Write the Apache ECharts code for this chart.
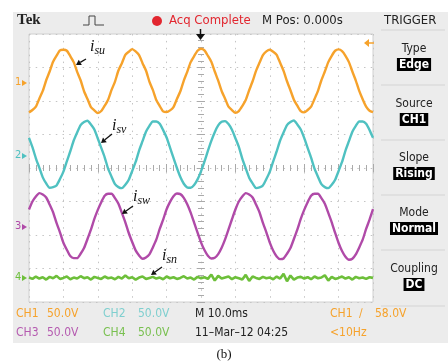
<!DOCTYPE html>
<html><head><meta charset="utf-8">
<script src="https://cdn.jsdelivr.net/npm/echarts@6/dist/echarts.min.js"></script>
<style>html,body{margin:0;padding:0;background:#fff}#c{width:448px;height:363px}</style>
</head><body><div id="c"></div>
<script>
// time axis (ms, relative to trigger) – 10 ms/div, 10 divisions
const timeMs = [-50,-49,-48,-47,-46,-45,-44,-43,-42,-41,-40,-39,-38,-37,-36,-35,-34,-33,-32,-31,
-30,-29,-28,-27,-26,-25,-24,-23,-22,-21,-20,-19,-18,-17,-16,-15,-14,-13,-12,-11,
-10,-9,-8,-7,-6,-5,-4,-3,-2,-1,0,1,2,3,4,5,6,7,8,9,
10,11,12,13,14,15,16,17,18,19,20,21,22,23,24,25,26,27,28,29,
30,31,32,33,34,35,36,37,38,39,40,41,42,43,44,45,46,47,48,49,50];
// screen values in divisions (including channel offsets)
const isu = [1.66,1.73,1.83,2.07,2.30,2.62,2.88,3.17,3.35,3.51,3.53,3.50,3.34,3.16,2.87,2.62,2.29,2.06,1.82,1.72,
1.64,1.70,1.86,2.04,2.33,2.58,2.91,3.13,3.38,3.47,3.55,3.48,3.37,3.13,2.91,2.58,2.33,2.03,1.85,1.69,
1.67,1.72,1.82,2.06,2.29,2.61,2.87,3.16,3.34,3.50,3.56,3.51,3.35,3.17,2.88,2.61,2.30,2.07,1.83,1.73,
1.65,1.70,1.85,2.03,2.32,2.59,2.90,3.14,3.37,3.48,3.53,3.47,3.38,3.14,2.90,2.59,2.32,2.04,1.86,1.70,
1.66,1.73,1.83,2.06,2.30,2.62,2.88,3.16,3.35,3.50,3.54,3.49,3.35,3.16,2.88,2.61,2.30,2.05,1.83,1.71,1.67];
const isv = [0.90,0.62,0.29,0.01,-0.28,-0.46,-0.59,-0.57,-0.52,-0.33,-0.11,0.20,0.50,0.82,1.06,1.28,1.37,1.41,1.30,1.15,
0.88,0.60,0.32,-0.02,-0.26,-0.48,-0.57,-0.60,-0.50,-0.35,-0.09,0.18,0.52,0.80,1.08,1.26,1.39,1.39,1.32,1.13,
0.91,0.61,0.30,0.00,-0.27,-0.47,-0.58,-0.59,-0.51,-0.34,-0.10,0.19,0.51,0.81,1.07,1.27,1.38,1.40,1.31,1.14,
0.89,0.63,0.28,-0.01,-0.29,-0.46,-0.60,-0.58,-0.52,-0.33,-0.11,0.20,0.50,0.82,1.06,1.28,1.37,1.42,1.30,1.15,
0.90,0.60,0.31,-0.02,-0.26,-0.48,-0.57,-0.60,-0.50,-0.35,-0.09,0.18,0.52,0.80,1.08,1.26,1.39,1.39,1.32,1.13,0.90];
const isw = [-1.24,-1.00,-0.85,-0.75,-0.79,-0.88,-1.09,-1.32,-1.64,-1.92,-2.23,-2.44,-2.63,-2.69,-2.69,-2.56,-2.39,-2.12,-1.84,-1.52,
-1.25,-1.02,-0.83,-0.77,-0.77,-0.90,-1.07,-1.34,-1.62,-1.94,-2.21,-2.46,-2.61,-2.71,-2.67,-2.58,-2.37,-2.14,-1.82,-1.54,
-1.23,-1.01,-0.84,-0.76,-0.78,-0.89,-1.08,-1.33,-1.63,-1.93,-2.22,-2.45,-2.62,-2.70,-2.68,-2.57,-2.38,-2.13,-1.83,-1.53,
-1.24,-1.00,-0.85,-0.75,-0.79,-0.88,-1.09,-1.32,-1.64,-1.92,-2.23,-2.47,-2.64,-2.72,-2.70,-2.56,-2.39,-2.12,-1.84,-1.52,
-1.25,-1.02,-0.83,-0.77,-0.77,-0.90,-1.07,-1.34,-1.62,-1.94,-2.24,-2.48,-2.65,-2.74,-2.71,-2.58,-2.37,-2.14,-1.82,-1.54,-1.23];
const isn = [-3.27,-3.31,-3.24,-3.30,-3.26,-3.33,-3.25,-3.29,-3.22,-3.31,
-3.28,-3.24,-3.32,-3.27,-3.30,-3.23,-3.29,-3.26,-3.33,-3.25,
-3.28,-3.31,-3.24,-3.29,-3.27,-3.32,-3.25,-3.30,-3.21,-3.29,
-3.26,-3.33,-3.27,-3.24,-3.31,-3.28,-3.25,-3.30,-3.27,-3.32,
-3.24,-3.29,-3.26,-3.31,-3.28,-3.23,-3.30,-3.27,-3.33,-3.25,
-3.29,-3.26,-3.31,-3.18,-3.36,-3.22,-3.30,-3.27,-3.24,-3.32,
-3.26,-3.29,-3.33,-3.19,-3.37,-3.24,-3.28,-3.31,-3.25,-3.29,
-3.27,-3.32,-3.24,-3.30,-3.16,-3.38,-3.21,-3.33,-3.27,-3.25,
-3.30,-3.26,-3.32,-3.24,-3.29,-3.27,-3.20,-3.36,-3.25,-3.31,
-3.28,-3.24,-3.30,-3.26,-3.33,-3.25,-3.29,-3.27,-3.31,-3.26,-3.28];
const seriesNames = ['isu','isv','isw','isn'];
const colors = ['#f6a22b','#4fc1c1','#b04aa8','#6dbf3a'];

const pair = a => a.map((v,i)=>[timeMs[i], v]);
const NF = "'Liberation Sans Narrow','DejaVu Sans Condensed','Liberation Sans',sans-serif";
const SF = "'Liberation Serif','DejaVu Serif',serif";

const gridCol = '#c4c4c4';
function xAx(pos, offset, inside, split){
  return {type:'value',min:-50,max:50,interval:10,position:pos,offset:offset,
    axisLine:{show:false},axisLabel:{show:false},
    axisTick:{show:true,inside:inside,length:4,lineStyle:{color:'#aaa'}},
    minorTick:{show:true,splitNumber:5,length:3,lineStyle:{color:'#aaa'}},
    splitLine:{show:split,lineStyle:{color:gridCol,type:[1.5,5.4],width:1}}};
}
function yAx(pos, offset, inside, split){
  return {type:'value',min:-4,max:4,interval:1,position:pos,offset:offset,
    axisLine:{show:false},axisLabel:{show:false},
    axisTick:{show:true,inside:inside,length:4,lineStyle:{color:'#aaa'}},
    minorTick:{show:true,splitNumber:5,length:3,lineStyle:{color:'#aaa'}},
    splitLine:{show:split,lineStyle:{color:gridCol,type:[1.5,5.2],width:1}}};
}

function arrow(x1,y1,x2,y2,color){
  const dx=x2-x1, dy=y2-y1, L=Math.hypot(dx,dy), ux=dx/L, uy=dy/L;
  const hl=5, hw=3;
  const bx=x2-ux*hl, by=y2-uy*hl;
  return [
    {type:'line',shape:{x1:x1,y1:y1,x2:bx,y2:by},style:{stroke:color,lineWidth:1.3},z:50},
    {type:'polygon',shape:{points:[[x2,y2],[bx-uy*hw,by+ux*hw],[bx+uy*hw,by-ux*hw]]},style:{fill:color},z:50}
  ];
}
function sublabel(x,y,sub){
  return {type:'text',left:x,top:y,z:50,style:{text:'{i|i}{s|'+sub+'}',
    rich:{i:{fontFamily:SF,fontStyle:'italic',fontSize:16,fill:'#111',verticalAlign:'top'},
          s:{fontFamily:SF,fontStyle:'italic',fontSize:12,fill:'#111',padding:[6,0,0,0]}}}};
}
function t(x,y,text,color,size,extra){
  return Object.assign({type:'text',left:x,top:y,z:50,style:Object.assign({text:text,fill:color,fontFamily:NF,fontSize:size||12},extra||{})});
}
function ctext(cx,y,text,boxed){
  const st={text:text,fill:boxed?'#fff':'#222',fontFamily:NF,fontSize:12,align:'center'};
  if(boxed){st.backgroundColor='#000';st.padding=[1,2,0,2];st.fontWeight='bold';}
  return {type:'text',x:cx,y:y,z:50,style:st};
}

const g = [];
g.push({type:'rect',shape:{x:13,y:12,width:435,height:331},style:{fill:'#ececec'},z:-100});
// header
g.push(t(17,13,'Tek','#222',15,{fontFamily:SF,fontWeight:'bold'}));
g.push({type:'polyline',shape:{points:[[83,25],[89,25],[89,16],[95,16],[95,25],[104,25]]},style:{stroke:'#444',lineWidth:1,fill:null},z:50});
g.push({type:'circle',shape:{cx:157,cy:21,r:5},style:{fill:'#e2262f'},z:50});
g.push(t(169,14,'Acq Complete','#e2262f',13));
g.push(t(262,14,'M Pos: 0.000s','#222',13));
g.push(t(384,14,'TRIGGER','#222',13));
// trigger panel
[30,85,140,195,250,306].forEach(y=>g.push({type:'line',shape:{x1:381,y1:y,x2:445,y2:y},style:{stroke:'#d4d4d4',lineWidth:1},z:40}));
const trig=[['Type','Edge',43],['Source','CH1',98],['Slope','Rising',152],['Mode','Normal',207],['Coupling','DC',263]];
trig.forEach(r=>{g.push(ctext(414,r[2],r[0],false));g.push(ctext(414,r[2]+15,r[1],true));});
// channel markers
[['1',83,colors[0]],['2',156,colors[1]],['3',227,colors[2]],['4',278,colors[3]]].forEach(m=>{
  g.push(t(15,m[1]-6,m[0],m[2],11));
  g.push({type:'polygon',shape:{points:[[22,m[1]-3],[22,m[1]+3],[27,m[1]]]},style:{fill:m[2]},z:50});
});
// trigger time arrow (top) and trigger level arrow (right)
g.push({type:'line',shape:{x1:200.5,y1:29,x2:200.5,y2:35},style:{stroke:'#111',lineWidth:1.5},z:60});
g.push({type:'polygon',shape:{points:[[196,34],[205,34],[200.5,40]]},style:{fill:'#111'},z:60});
g.push({type:'line',shape:{x1:367,y1:43,x2:374,y2:43},style:{stroke:colors[0],lineWidth:1.5},z:60});
g.push({type:'polygon',shape:{points:[[364,43],[369,39],[369,47]]},style:{fill:colors[0]},z:60});
// annotations
g.push(sublabel(90,39,'su')); g.push(...arrow(86,59,76,65,'#111'));
g.push(sublabel(112,118,'sv')); g.push(...arrow(112,134,101,143,'#111'));
g.push(sublabel(133,189,'sw')); g.push(...arrow(133,206,122,214,'#111'));
g.push(sublabel(162,248,'sn')); g.push(...arrow(162,267,151,275,'#111'));
// bottom readouts
g.push(t(16,308,'CH1','#f6a22b',12)); g.push(t(47,308,'50.0V','#f6a22b',12));
g.push(t(103,308,'CH2','#7fcfcf',12)); g.push(t(138,308,'50.0V','#7fcfcf',12));
g.push(t(195,308,'M 10.0ms','#222',12));
g.push(t(330,308,'CH1','#f6a22b',12)); g.push(t(359,308,'\u2215','#f6a22b',12)); g.push(t(375,308,'58.0V','#f6a22b',12));
g.push(t(16,327,'CH3','#b55bb0',12)); g.push(t(47,327,'50.0V','#b55bb0',12));
g.push(t(103,327,'CH4','#79c050',12)); g.push(t(138,327,'50.0V','#79c050',12));
g.push(t(195,327,'11\u2013Mar\u201312 04:25','#222',12));
g.push(t(330,327,'<10Hz','#f6a22b',12));
g.push({type:'text',x:224,y:348,z:50,style:{text:'(b)',fill:'#111',fontFamily:SF,fontSize:13,align:'center'}});

const chart = echarts.init(document.getElementById('c'),null,{renderer:'canvas'});
chart.setOption({
  animation:false,
  grid:{left:29,top:34,width:344,height:268,show:true,backgroundColor:'#fff',borderColor:'#d0d0d0',borderWidth:1},
  xAxis:[xAx('bottom',0,true,true),xAx('top',0,true,false),xAx('bottom',-134,true,false),xAx('bottom',-134,false,false)],
  yAxis:[yAx('left',0,true,true),yAx('right',0,true,false),yAx('left',-172,true,false),yAx('left',-172,false,false)],
  graphic:g,
  series:[isu,isv,isw,isn].map((a,i)=>({name:seriesNames[i],type:'line',data:pair(a),showSymbol:false,
    xAxisIndex:0,yAxisIndex:0,z:10,
    lineStyle:{color:colors[i],width:i===3?2.6:2.4},smooth:i===3?false:0.2}))
});
</script></body></html>
